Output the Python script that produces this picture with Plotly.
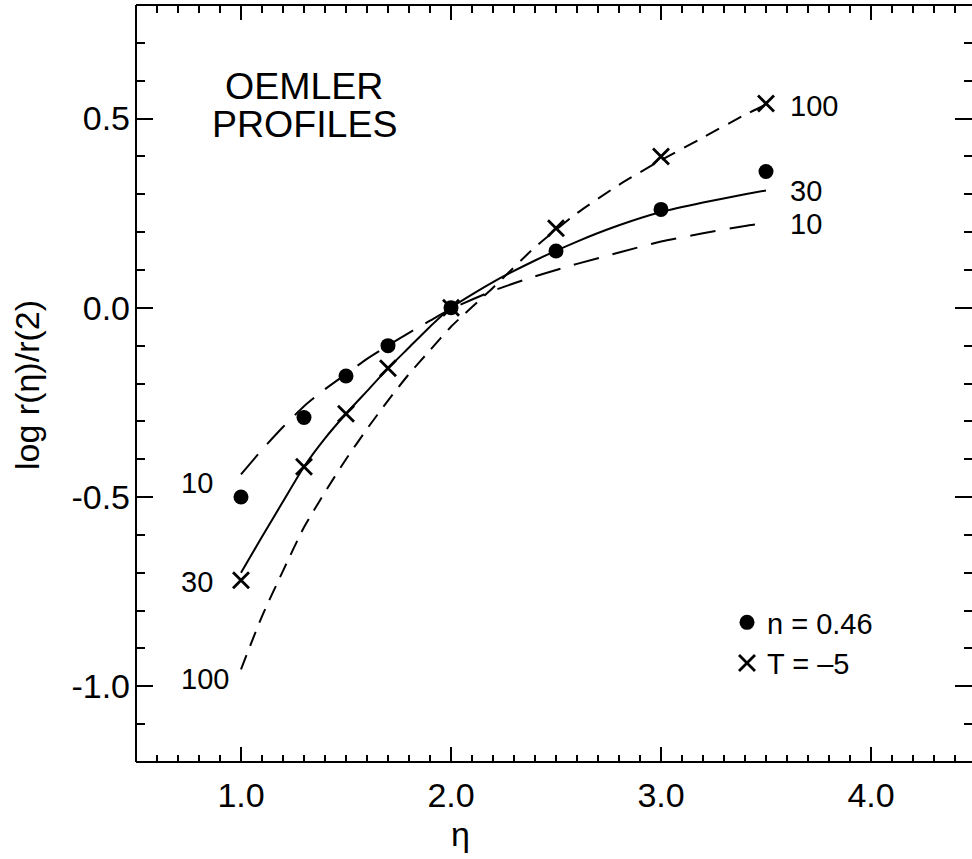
import plotly.graph_objects as go

# Measured points at the sampled radii
eta_pts = [1.0, 1.3, 1.5, 1.7, 2.0, 2.5, 3.0, 3.5]
n_046 = [-0.50, -0.29, -0.18, -0.10, 0.0, 0.15, 0.26, 0.36]
t_m5 = [-0.72, -0.42, -0.28, -0.16, 0.0, 0.21, 0.40, 0.54]

# Model profile curves (labelled 10, 30, 100)
eta_curve = [1.0, 1.1, 1.2, 1.3, 1.4, 1.5, 1.6, 1.7, 1.8, 1.9, 2.0,
             2.2, 2.4, 2.6, 2.8, 3.0, 3.2, 3.4, 3.5]
prof_10 = [-0.44, -0.375, -0.315, -0.26, -0.215, -0.175, -0.135, -0.10, -0.066, -0.034, -0.003,
           0.045, 0.083, 0.116, 0.146, 0.175, 0.197, 0.216, 0.224]
prof_30 = [-0.70, -0.605, -0.512, -0.42, -0.345, -0.28, -0.22, -0.16, -0.105, -0.05, 0.0,
           0.068, 0.125, 0.175, 0.218, 0.253, 0.278, 0.30, 0.31]
prof_100 = [-0.955, -0.815, -0.695, -0.58, -0.487, -0.40, -0.32, -0.245, -0.175, -0.112, -0.05,
            0.053, 0.16, 0.25, 0.325, 0.39, 0.45, 0.51, 0.537]
curve_names = ["10", "30", "100"]

x_tickvals = [1.0, 2.0, 3.0, 4.0]
x_ticktext = ["1.0", "2.0", "3.0", "4.0"]
y_tickvals = [0.5, 0.0, -0.5, -1.0]
y_ticktext = ["0.5", "0.0", "-0.5", "-1.0"]

FONT = "Liberation Sans, Arial, Helvetica, sans-serif"
W, H = 972, 859
ML, MT, MB = 136, 5, 97
PX_PER_X = 210.0
x_lo = 0.5
x_hi = x_lo + (W - ML) / PX_PER_X


def px_x(px):
    return (px - ML) / (W - ML)


def px_y(py):
    return (H - MB - py) / (H - MB - MT)


fig = go.Figure()

dashes = ["26px,14px", None, "15px,10px"]
for name, ys, dash in zip(curve_names, [prof_10, prof_30, prof_100], dashes):
    line = dict(color="black", width=2, shape="spline", smoothing=0.6)
    if dash:
        line["dash"] = dash
    fig.add_trace(go.Scatter(x=eta_curve, y=ys, mode="lines", line=line,
                             showlegend=False, hoverinfo="skip"))

fig.add_trace(go.Scatter(
    x=eta_pts, y=n_046, mode="markers", name="n = 0.46", legendgroup="a",
    marker=dict(symbol="circle", size=15, color="black", line=dict(width=0))))
fig.add_trace(go.Scatter(
    x=eta_pts, y=t_m5, mode="markers", name="T = \u20135", legendgroup="b",
    marker=dict(symbol="x-thin", size=16, color="black",
                line=dict(width=2.8, color="black"))))

# curve labels at both ends of each profile
for name, ys, dy_left in zip(curve_names, [prof_10, prof_30, prof_100], [-9, -9, -10]):
    fig.add_annotation(x=eta_curve[0], y=ys[0], text=name, showarrow=False,
                       xanchor="left", yanchor="middle", xshift=-62, yshift=dy_left,
                       font=dict(family=FONT, size=29, color="black"))
    fig.add_annotation(x=eta_curve[-1], y=ys[-1], text=name, showarrow=False,
                       xanchor="left", yanchor="middle", xshift=22, yshift=-1,
                       font=dict(family=FONT, size=29, color="black"))

for txt, cy in [("OEMLER", 86), ("PROFILES", 124)]:
    fig.add_annotation(xref="paper", yref="paper", x=px_x(304), y=px_y(cy),
                       text=txt, showarrow=False, xanchor="center", yanchor="middle",
                       font=dict(family=FONT, size=37.5, color="black"))

# axis titles
fig.add_annotation(xref="paper", yref="paper", x=px_x(27), y=px_y(385),
                   text="log r(\u03b7)/r(2)", textangle=-90, showarrow=False,
                   xanchor="center", yanchor="middle",
                   font=dict(family=FONT, size=34, color="black"))
fig.add_annotation(xref="paper", yref="paper", x=px_x(460), y=px_y(834),
                   text="\u03b7", showarrow=False, xanchor="center", yanchor="middle",
                   font=dict(family=FONT, size=34, color="black"))

# frame: left, bottom, top
for x0, y0, x1, y1 in [(0, 0, 0, 1), (0, 0, 1, 0), (0, 1, 1, 1)]:
    fig.add_shape(type="line", xref="paper", yref="paper", x0=x0, y0=y0, x1=x1, y1=y1,
                  line=dict(color="black", width=2))

fig.update_layout(
    width=W, height=H,
    margin=dict(l=ML, r=0, t=MT, b=MB, pad=0),
    paper_bgcolor="white", plot_bgcolor="white",
    font=dict(family=FONT, size=34, color="black"),
    showlegend=True,
    legend=dict(x=px_x(727), y=px_y(597),
                xanchor="left", yanchor="top", bgcolor="rgba(0,0,0,0)",
                font=dict(family=FONT, size=29, color="black"),
                tracegroupgap=0, itemwidth=30),
    xaxis=dict(range=[x_lo, x_hi], showgrid=False, zeroline=False, showline=False,
               mirror="ticks", ticks="inside", ticklen=15, tickwidth=2, tickcolor="black",
               tickvals=x_tickvals, ticktext=x_ticktext, ticklabelstandoff=10,
               tickfont=dict(family=FONT, size=34, color="black"),
               minor=dict(ticks="inside", ticklen=7.5, tickwidth=2, tickcolor="black",
                          dtick=0.1, tick0=0, showgrid=False)),
    yaxis=dict(range=[-1.2, 0.8], showgrid=False, zeroline=False, showline=False,
               mirror="ticks", ticks="inside", ticklen=17, tickwidth=2, tickcolor="black",
               tickvals=y_tickvals, ticktext=y_ticktext, ticklabelstandoff=5,
               tickfont=dict(family=FONT, size=34, color="black"),
               minor=dict(ticks="inside", ticklen=8.5, tickwidth=2, tickcolor="black",
                          dtick=0.1, tick0=0, showgrid=False)),
)

fig.write_html("out.html")
